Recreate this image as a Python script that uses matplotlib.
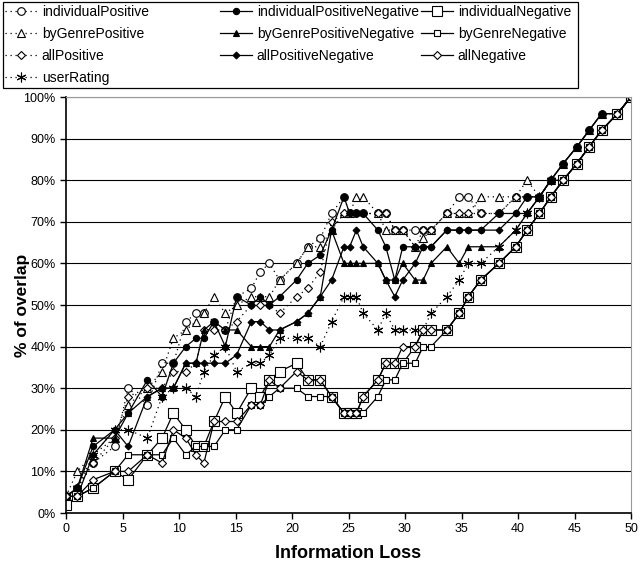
import matplotlib
matplotlib.use("Agg")
import matplotlib.pyplot as plt
from matplotlib.patches import Rectangle
from matplotlib.ticker import FuncFormatter

plt.rcParams['font.family'] = ['Liberation Sans', 'DejaVu Sans']

# information loss values shared by all series
info_loss = [0, 1.0, 2.4, 4.3, 5.5, 7.2, 8.5, 9.5, 10.6, 11.5,
             12.2, 13.1, 14.1, 15.1, 16.4, 17.2, 18.0, 18.9, 20.4, 21.4,
             22.5, 23.5, 24.6, 25.1, 25.7, 26.3, 27.6, 28.3, 29.1, 29.8,
             30.9, 31.6, 32.3, 33.7, 34.8, 35.6, 36.7, 38.3, 39.8, 40.8,
             41.9, 42.9, 44.0, 45.2, 46.3, 47.4, 48.8, 50]

# % of overlap per series
individualPositive = [4, 6, 12, 16, 30, 26, 36, 36, 46, 48, 48, 46, 44, 52, 54, 58, 60, 56, 60, 64,
                      66, 72, 76, 72, 72, 72, 72, 72, 68, 68, 68, 68, 68, 72, 76, 76, 72, 72, 76, 76,
                      76, 80, 84, 88, 92, 96, 96, 100]
byGenrePositive = [4, 10, 14, 18, 26, 30, 34, 42, 44, 46, 48, 52, 48, 50, 52, 52, 52, 56, 60, 64,
                   64, 68, 72, 72, 76, 76, 72, 68, 68, 68, 64, 66, 68, 72, 72, 72, 76, 76, 76, 80,
                   76, 80, 84, 88, 92, 96, 96, 100]
allPositive = [4, 6, 12, 18, 28, 30, 30, 34, 34, 36, 44, 44, 44, 46, 50, 50, 50, 48, 52, 54,
               58, 70, 72, 72, 72, 72, 72, 72, 68, 68, 64, 68, 68, 72, 72, 72, 72, 72, 76, 76,
               76, 80, 84, 88, 92, 96, 96, 100]
userRating = [4, 6, 14, 20, 20, 18, 28, 30, 30, 28, 34, 38, 40, 34, 36, 36, 38, 42, 42, 42,
              40, 46, 52, 52, 52, 48, 44, 48, 44, 44, 44, 44, 48, 52, 56, 60, 60, 64, 68, 72,
              76, 80, 80, 84, 88, 92, 96, 100]
individualPositiveNegative = [4, 6, 16, 20, 24, 32, 28, 36, 40, 42, 42, 46, 40, 52, 50, 52, 50, 52, 56, 60,
                              62, 68, 76, 72, 72, 72, 68, 64, 56, 64, 64, 64, 64, 68, 68, 68, 68, 72, 72, 76,
                              76, 80, 84, 88, 92, 96, 96, 100]
byGenrePositiveNegative = [4, 6, 18, 18, 24, 28, 30, 30, 36, 36, 44, 46, 44, 44, 40, 40, 40, 44, 46, 48,
                           52, 68, 60, 60, 60, 60, 60, 56, 56, 60, 56, 56, 60, 64, 60, 64, 64, 64, 68, 72,
                           76, 80, 84, 88, 92, 96, 96, 100]
allPositiveNegative = [4, 4, 14, 20, 16, 28, 30, 30, 36, 36, 36, 36, 36, 38, 46, 46, 44, 44, 46, 48,
                       52, 56, 64, 64, 68, 64, 60, 56, 52, 56, 60, 64, 64, 68, 68, 68, 68, 68, 72, 72,
                       76, 80, 80, 84, 88, 92, 96, 100]
individualNegative = [2, 4, 6, 10, 8, 14, 18, 24, 20, 16, 16, 22, 28, 24, 30, 28, 32, 34, 36, 32,
                      32, 28, 24, 24, 24, 28, 32, 36, 36, 36, 40, 44, 44, 44, 48, 52, 56, 60, 64, 68,
                      72, 76, 80, 84, 88, 92, 96, 100]
byGenreNegative = [4, 4, 6, 10, 14, 14, 14, 18, 14, 16, 16, 16, 20, 20, 26, 26, 28, 30, 30, 28,
                   28, 28, 24, 24, 24, 24, 28, 32, 32, 36, 36, 40, 40, 44, 48, 52, 56, 60, 64, 68,
                   72, 76, 80, 84, 88, 92, 96, 100]
allNegative = [4, 4, 8, 10, 10, 14, 12, 20, 18, 14, 12, 22, 22, 22, 26, 26, 32, 30, 34, 32,
               32, 28, 24, 24, 24, 28, 32, 36, 36, 40, 40, 44, 44, 44, 48, 52, 56, 60, 64, 68,
               72, 76, 80, 84, 88, 92, 96, 100]

dotted = (0, (1, 3))

# (label, values, linestyle, marker, markersize, facecolor)
series = [
    ("individualPositive", individualPositive, dotted, "o", 5.5, "white"),
    ("byGenrePositive", byGenrePositive, dotted, "^", 6, "white"),
    ("allPositive", allPositive, dotted, "D", 4.5, "white"),
    ("userRating", userRating, dotted, (6, 2, 0), 7, "black"),
    ("individualPositiveNegative", individualPositiveNegative, "-", "o", 4.5, "black"),
    ("byGenrePositiveNegative", byGenrePositiveNegative, "-", "^", 5, "black"),
    ("allPositiveNegative", allPositiveNegative, "-", "D", 3.5, "black"),
    ("individualNegative", individualNegative, "-", "s", 6.5, "white"),
    ("byGenreNegative", byGenreNegative, "-", "s", 4.5, "white"),
    ("allNegative", allNegative, "-", "D", 4.5, "white"),
]

W, H = 644, 571
fig = plt.figure(figsize=(W / 100, H / 100), dpi=100)
ax = fig.add_axes([66 / W, 1 - 513 / H, 565 / W, 416 / H])

lines = []
for label, vals, ls, mk, ms, fc in series:
    ln, = ax.plot(info_loss, vals, linestyle=ls, color="black", linewidth=0.9,
                  marker=mk, markersize=ms, markerfacecolor=fc, markeredgecolor="black",
                  markeredgewidth=0.8, label=label)
    lines.append(ln)

ax.set_xlim(0, 50)
ax.set_ylim(0, 100)
ax.set_xticks(range(0, 51, 5))
ax.set_yticks(range(0, 101, 10))
ax.yaxis.set_major_formatter(FuncFormatter(lambda v, p: f"{int(v)}%"))
ax.grid(axis="y", color="black", linewidth=0.8)
ax.set_axisbelow(True)
ax.tick_params(labelsize=9, direction="out", length=4, width=1)
for side in ["top", "right"]:
    ax.spines[side].set_color("#999999")
ax.spines["left"].set_linewidth(1.2)
ax.spines["bottom"].set_linewidth(1.2)

ax.set_xlabel("Information Loss", fontsize=13, fontweight="bold", labelpad=7)
ax.set_ylabel("% of overlap", fontsize=12.5, fontweight="bold", labelpad=-5)

# legend: three fixed columns inside one frame, like the spreadsheet original
fig.patches.append(Rectangle((3 / W, 1 - 88 / H), 575 / W, 86 / H, transform=fig.transFigure,
                             facecolor="white", edgecolor="black", linewidth=0.9, zorder=0))
col_x = [5, 220, 421]
groups = [lines[0:4], lines[4:7], lines[7:10]]
for x0, grp in zip(col_x, groups):
    fig.legend(grp, [l.get_label() for l in grp], loc="upper left",
               bbox_to_anchor=(x0 / W, 1 - 5 / H), bbox_transform=fig.transFigure,
               frameon=False, fontsize=10, handlelength=2.3, handletextpad=0.35,
               labelspacing=0.58, borderpad=0, borderaxespad=0)

fig.savefig("out.png", dpi=100)
